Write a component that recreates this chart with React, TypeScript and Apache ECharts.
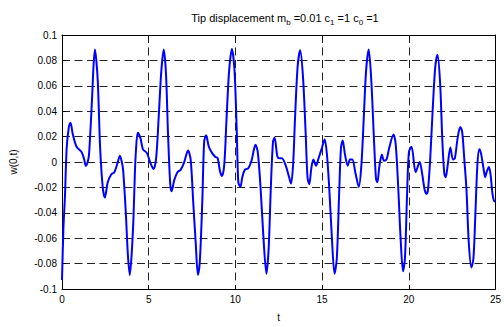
import React, { useEffect, useRef } from "react";
import * as echarts from "echarts";

const times = [
  0, 0.08, 0.17, 0.27, 0.4, 0.49, 0.62, 0.84, 1.12, 1.28, 1.37, 1.48, 1.56, 1.73, 1.82, 1.9, 1.98, 2.07, 2.2, 2.35,
  2.47, 2.64, 2.83, 3.02, 3.21, 3.34, 3.45, 3.53, 3.68, 3.8, 3.91, 4.02, 4.12, 4.2, 4.27, 4.37, 4.52, 4.67, 4.9,
  5.09, 5.28, 5.43, 5.58, 5.73, 5.87, 6.0, 6.11, 6.24, 6.32, 6.47, 6.66, 6.85, 7.04, 7.27, 7.42, 7.57, 7.71, 7.84,
  7.95, 8.09, 8.2, 8.31, 8.47, 8.66, 8.85, 8.98, 9.11, 9.23, 9.36, 9.49, 9.64, 9.8, 9.95, 10.08, 10.17, 10.29,
  10.4, 10.55, 10.74, 10.93, 11.16, 11.29, 11.45, 11.6, 11.79, 11.92, 12.04, 12.17, 12.26, 12.42, 12.53, 12.68,
  12.91, 13.1, 13.21, 13.33, 13.44, 13.59, 13.74, 13.9, 14.05, 14.16, 14.26, 14.39, 14.5, 14.65, 14.8, 14.99,
  15.15, 15.28, 15.41, 15.56, 15.72, 15.85, 15.98, 16.09, 16.19, 16.32, 16.48, 16.61, 16.74, 16.93, 17.12, 17.27,
  17.41, 17.54, 17.69, 17.84, 18.0, 18.11, 18.19, 18.3, 18.45, 18.57, 18.72, 18.87, 19.12, 19.25, 19.4, 19.53,
  19.67, 19.78, 19.9, 20.01, 20.16, 20.4, 20.63, 20.77, 20.92, 21.03, 21.11, 21.24, 21.38, 21.53, 21.66, 21.81,
  21.94, 22.05, 22.13, 22.25, 22.4, 22.55, 22.66, 22.82, 22.97, 23.08, 23.2, 23.33, 23.46, 23.61, 23.73, 23.84,
  23.96, 24.07, 24.18, 24.3, 24.41, 24.49, 24.62, 24.71, 24.83, 24.94, 25.0,
];

const displacement = [
  -0.093, -0.053, -0.027, 0.011, 0.028, 0.031, 0.022, 0.012, 0.008, 0.002, -0.003, 0.0, 0.006, 0.049, 0.076, 0.0886,
  0.08, 0.062, 0.011, -0.02, -0.028, -0.016, -0.01, -0.008, -0.0005, 0.005, 0.0, -0.007, -0.04, -0.073, -0.089,
  -0.072, -0.045, -0.01, 0.01, 0.023, 0.019, 0.01, 0.007, -0.0005, -0.0056, 0.003, 0.036, 0.072, 0.0886, 0.069,
  0.024, -0.017, -0.023, -0.0145, -0.008, -0.006, -0.0005, 0.009, 0.002, -0.032, -0.063, -0.089, -0.078, -0.032,
  0.016, 0.021, 0.012, 0.007, 0.004, 0.003, -0.007, -0.011, -0.002, 0.034, 0.072, 0.089, 0.072, 0.024, -0.016,
  -0.0196, -0.012, -0.006, -0.005, 0.001, 0.0135, 0.008, -0.0196, -0.055, -0.088, -0.068, -0.022, 0.016, 0.019,
  0.0046, 0.003, 0.003, -0.003, -0.012, -0.017, -0.002, 0.034, 0.075, 0.088, 0.067, 0.024, -0.012, -0.0176,
  -0.004, 0.002, -0.003, 0.003, 0.011, 0.018, 0.006, -0.0196, -0.058, -0.088, -0.076, -0.027, 0.011, 0.017,
  0.006, -0.003, 0.002, 0.002, -0.009, -0.0196, -0.002, 0.036, 0.072, 0.0886, 0.064, 0.016, -0.013, -0.016,
  -0.004, 0.006, 0.001, 0.002, 0.011, 0.0216, 0.0135, -0.022, -0.06, -0.086, -0.076, -0.027, 0.008, 0.012,
  -0.008, 0.0, -0.009, -0.022, -0.025, -0.022, 0.003, 0.041, 0.075, 0.0845, 0.062, 0.016, -0.009, -0.012,
  -0.002, 0.0115, 0.002, 0.003, 0.019, 0.0275, 0.024, 0.003, -0.022, -0.063, -0.083, -0.076, -0.042, -0.002,
  0.01, 0.006, -0.004, -0.012, -0.008, -0.004, -0.009, -0.025, -0.031, -0.031,
];

const xTicks = [0, 5, 10, 15, 20, 25];
const yTicks = [-0.1, -0.08, -0.06, -0.04, -0.02, 0, 0.02, 0.04, 0.06, 0.08, 0.1];

const FONT = "'Liberation Sans', Arial, sans-serif";

export default function App() {
  const ref = useRef<HTMLDivElement>(null);
  useEffect(() => {
    if (!ref.current) return;
    const chart = echarts.init(ref.current, null, { renderer: "svg" });
    const data = times.map((t, i) => [t, displacement[i]]);
    const gridLine = { show: true, lineStyle: { color: "#222", width: 1, type: [8, 4.5] as any } };
    const axisLine = { show: true, onZero: false, lineStyle: { color: "#000", width: 1 } };
    const tick = { show: true, inside: true, length: 4, lineStyle: { color: "#000" } };
    const label = { color: "#000", fontSize: 10, fontFamily: FONT };
    const fmt = (v: number) => String(parseFloat(v.toFixed(2)));
    chart.setOption({
      animation: false,
      backgroundColor: "#fff",
      title: {
        text: "Tip displacement m{s|b} =0.01 c{s|1} =1 c{s|0} =1",
        left: 280,
        textAlign: "center",
        top: 5,
        textStyle: {
          fontSize: 11,
          fontWeight: "normal",
          color: "#000",
          fontFamily: FONT,
          lineHeight: 16,
          rich: {
            s: { fontSize: 8, fontFamily: FONT, color: "#000", verticalAlign: "bottom", lineHeight: 16, padding: [4, 0, 0, 0] },
          },
        },
      },
      grid: { left: 60, right: 4, top: 35, bottom: 30, containLabel: false },
      xAxis: [
        {
          type: "value",
          min: 0,
          max: 25,
          interval: 5,
          position: "bottom",
          name: "t",
          nameLocation: "middle",
          nameGap: 23,
          nameTextStyle: { color: "#000", fontSize: 10, fontFamily: FONT },
          axisLine,
          axisTick: tick,
          axisLabel: { ...label, margin: 5, formatter: (v: number) => (xTicks.includes(v) ? String(v) : "") },
          splitLine: gridLine,
        },
        {
          type: "value",
          min: 0,
          max: 25,
          interval: 5,
          position: "top",
          axisLine,
          axisTick: tick,
          axisLabel: { show: false },
          splitLine: { show: false },
        },
      ],
      yAxis: [
        {
          type: "value",
          min: -0.1,
          max: 0.1,
          interval: 0.02,
          position: "left",
          name: "w(0,t)",
          nameLocation: "middle",
          nameGap: 44,
          nameTextStyle: { color: "#000", fontSize: 10, fontFamily: FONT },
          axisLine,
          axisTick: tick,
          axisLabel: { ...label, margin: 5, formatter: (v: number) => (yTicks.some((y) => Math.abs(y - v) < 1e-9) ? fmt(v) : "") },
          splitLine: gridLine,
        },
        {
          type: "value",
          min: -0.1,
          max: 0.1,
          interval: 0.02,
          position: "right",
          axisLine,
          axisTick: tick,
          axisLabel: { show: false },
          splitLine: { show: false },
        },
      ],
      series: [
        {
          type: "line",
          data,
          xAxisIndex: 0,
          yAxisIndex: 0,
          showSymbol: false,
          smooth: 0.3,
          lineStyle: { color: "#0000ff", width: 2 },
        },
      ],
    });
    return () => chart.dispose();
  }, []);
  return <div ref={ref} style={{ width: 504, height: 327, position: "absolute", left: 0, top: 0 }} />;
}
